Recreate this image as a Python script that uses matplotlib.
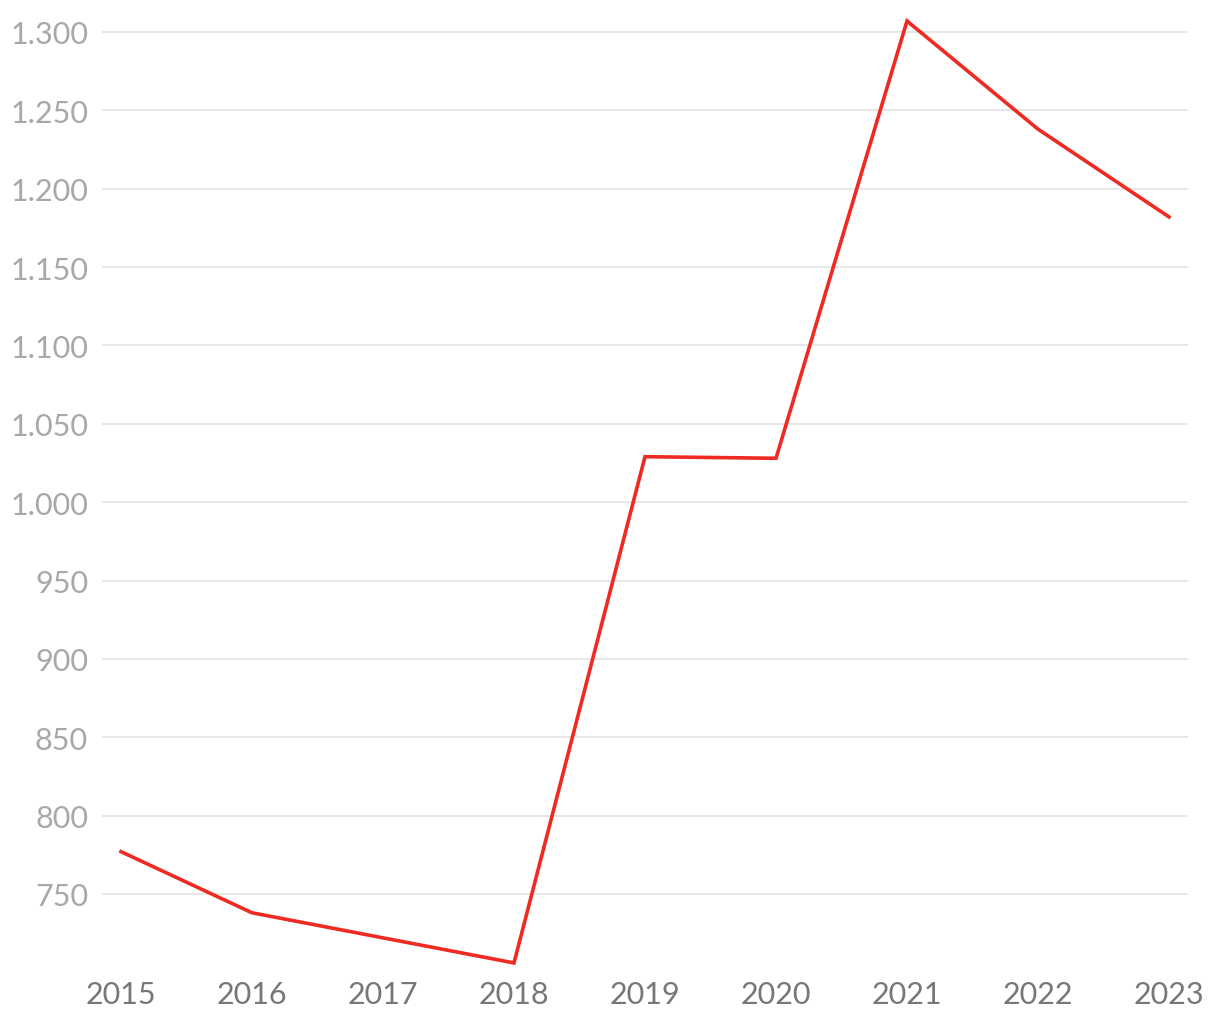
import matplotlib
matplotlib.use("Agg")
import matplotlib.pyplot as plt
from matplotlib.ticker import FuncFormatter

years = [2015, 2016, 2017, 2018, 2019, 2020, 2021, 2022, 2023]
values = [777, 738, 722, 706, 1029, 1028, 1307, 1238, 1182]
yticks = [750, 800, 850, 900, 950, 1000, 1050, 1100, 1150, 1200, 1250, 1300]

plt.rcParams['font.family'] = ['Lato', 'DejaVu Sans']

fig = plt.figure(figsize=(12.2, 10.2), dpi=100)
ax = fig.add_axes([102/1220, 1 - 965.5/1020, (1188 - 102)/1220, (965.5 - 17.3)/1020])

ax.plot(years, values, color='#ee2a22', linewidth=2.6, solid_joinstyle='miter')

ax.set_xlim(2015 - 0.145, 2023 + 0.145)
ax.set_ylim(705, 1310)
ax.set_xticks(years)
ax.set_yticks(yticks)

def fmt(v, pos):
    s = f"{int(v):,}".replace(",", ".")
    return s
ax.yaxis.set_major_formatter(FuncFormatter(fmt))

ax.grid(axis='y', color='#e5e5e5', linewidth=1.3)
ax.grid(axis='x', visible=False)
ax.set_axisbelow(True)
for s in ax.spines.values():
    s.set_visible(False)

ax.tick_params(axis='y', length=0, pad=10, labelsize=22, labelcolor='#a8a8a8')
ax.tick_params(axis='x', length=0, pad=11, labelsize=22, labelcolor='#777777')

fig.savefig('out.png', dpi=100)
